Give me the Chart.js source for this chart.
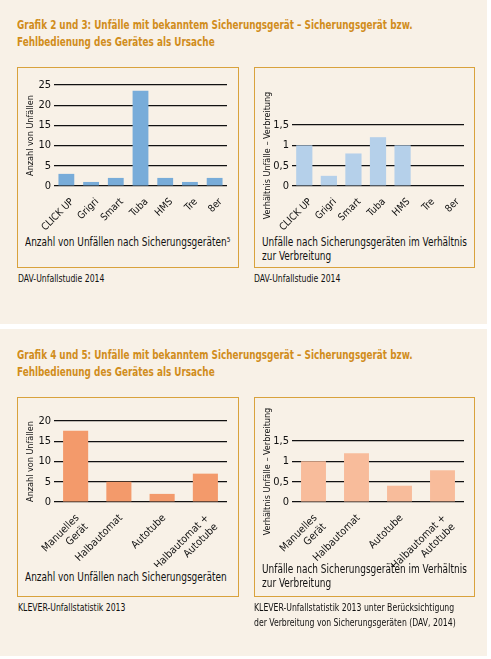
<!DOCTYPE html>
<html>
<head>
<meta charset="utf-8">
<script src="https://cdn.jsdelivr.net/npm/chart.js@4/dist/chart.umd.min.js"></script>
<style>
  body { margin: 0; width: 491px; height: 659px; background: #fff; position: relative; overflow: hidden;
         font-family: 'DejaVu Sans Condensed', sans-serif; }
  .panel { position: absolute; left: 0; width: 487px; background: #f8f1e7; }
  .title { position: absolute; left: 17px; color: #d18d1c; font-weight: bold; font-size: 12px; line-height: 16.5px;
           white-space: nowrap; transform: scaleX(0.82); transform-origin: 0 0; }
  .box { position: absolute; border: 1px solid #d9a23c; box-sizing: border-box; }
  .wrap { position: absolute; }
  .sub { position: absolute; font-size: 12px; line-height: 13.5px; color: #111; white-space: nowrap;
         transform: scaleX(0.83); transform-origin: 0 0; }
  .src { position: absolute; font-size: 10px; line-height: 15px; color: #111; white-space: nowrap;
         transform: scaleX(0.86); transform-origin: 0 0; }
</style>
</head>
<body>
<div class="panel" style="top:0;height:324px"></div>
<div class="panel" style="top:329px;height:327px"></div>

<div class="title" style="top:17px">Grafik 2 und 3: Unfälle mit bekanntem Sicherungsgerät – Sicherungsgerät bzw.<br>Fehlbedienung des Gerätes als Ursache</div>
<div class="title" style="top:347px">Grafik 4 und 5: Unfälle mit bekanntem Sicherungsgerät – Sicherungsgerät bzw.<br>Fehlbedienung des Gerätes als Ursache</div>

<div class="box" style="left:17px;top:67px;width:222px;height:201px"></div>
<div class="box" style="left:254px;top:67px;width:221px;height:201px"></div>
<div class="box" style="left:17px;top:397px;width:222px;height:200px"></div>
<div class="box" style="left:254px;top:397px;width:221px;height:200px"></div>

<div class="wrap" style="left:17px;top:67px;width:221px;height:165px"><canvas id="chart1"></canvas></div>
<div class="wrap" style="left:254px;top:67px;width:220px;height:165px"><canvas id="chart2"></canvas></div>
<div class="wrap" style="left:17px;top:397px;width:221px;height:170px"><canvas id="chart3"></canvas></div>
<div class="wrap" style="left:254px;top:397px;width:220px;height:170px"><canvas id="chart4"></canvas></div>

<div class="sub" style="left:25px;top:236px">Anzahl von Unfällen nach Sicherungsgeräten⁵</div>
<div class="sub" style="left:262px;top:236px">Unfälle nach Sicherungsgeräten im Verhältnis<br>zur Verbreitung</div>
<div class="sub" style="left:25px;top:571px">Anzahl von Unfällen nach Sicherungsgeräten</div>
<div class="sub" style="left:262px;top:563px">Unfälle nach Sicherungsgeräten im Verhältnis<br>zur Verbreitung</div>

<div class="src" style="left:18px;top:271px">DAV-Unfallstudie 2014</div>
<div class="src" style="left:254px;top:271px">DAV-Unfallstudie 2014</div>
<div class="src" style="left:18px;top:600px">KLEVER-Unfallstatistik 2013</div>
<div class="src" style="left:254px;top:600px">KLEVER-Unfallstatistik 2013 unter Berücksichtigung<br>der Verbreitung von Sicherungsgeräten (DAV, 2014)</div>

<script>
// Data
var deviceLabels = ['CLICK UP', 'Grigri', 'Smart', 'Tuba', 'HMS', 'Tre', '8er'];
var deviceAccidents = [3, 1, 2, 23.6, 2, 1, 2];
var deviceRatio = [1.0, 0.25, 0.8, 1.2, 1.0, null, null];

var typeLabels = [['Manuelles', 'Gerät'], 'Halbautomat', 'Autotube', ['Halbautomat +', 'Autotube']];
var typeAccidents = [17.6, 5, 2, 7];
var typeRatio = [1.0, 1.2, 0.4, 0.78];

var countTicksDevices = [0, 5, 10, 15, 20, 25];
var ratioTicks = [0, 0.5, 1, 1.5];
var countTicksTypes = [0, 5, 10, 15, 20];

var FONT = "'DejaVu Sans Condensed', sans-serif";

function makeChart(id, labels, values, color, ticks, yTitle, pad, yWidth, xHeight, barPct, xTick) {
  var ctx = document.getElementById(id).getContext('2d');
  return new Chart(ctx, {
    type: 'bar',
    data: {
      labels: labels,
      datasets: [{
        data: values,
        backgroundColor: color,
        borderWidth: 0,
        barPercentage: barPct,
        categoryPercentage: 1
      }]
    },
    options: {
      responsive: true,
      maintainAspectRatio: false,
      animation: false,
      layout: { padding: pad },
      scales: {
        x: {
          grid: { display: false },
          border: { display: false },
          ticks: {
            color: '#111',
            font: { family: FONT, size: xTick.size },
            minRotation: 45,
            maxRotation: 45,
            autoSkip: false,
            padding: xTick.padding,
            labelOffset: xTick.shift
          },
          afterFit: function(scale) { scale.height = xHeight; }
        },
        y: {
          min: ticks[0],
          max: ticks[ticks.length - 1],
          afterBuildTicks: function(scale) {
            scale.ticks = ticks.map(function(v) { return { value: v }; });
          },
          grid: { color: '#111', lineWidth: 1.2, drawTicks: false },
          border: { display: false },
          ticks: {
            color: '#111',
            font: { family: FONT, size: 11 },
            padding: 3,
            callback: function(v) { return String(v).replace('.', ','); }
          },
          title: {
            display: true,
            text: yTitle,
            color: '#111',
            font: { family: FONT, size: 9 },
            padding: { top: 8, bottom: 0 }
          },
          afterFit: function(scale) { scale.width = yWidth; }
        }
      },
      plugins: {
        legend: { display: false },
        tooltip: { enabled: false }
      }
    }
  });
}

var deviceTick = { size: 10, padding: 2, shift: 6 };
var typeTick = { size: 10.5, padding: 2, shift: 2 };

makeChart('chart1', deviceLabels, deviceAccidents, '#78acd9', countTicksDevices,
  'Anzahl von Unfällen', { top: 18, right: 11, left: 0, bottom: 0 }, 37, 46, 0.64, deviceTick);
makeChart('chart2', deviceLabels, deviceRatio, '#b5d0ea', ratioTicks,
  'Verhältnis Unfälle – Verbreitung', { top: 58, right: 10, left: 0, bottom: 0 }, 38, 46, 0.66, deviceTick);
makeChart('chart3', typeLabels, typeAccidents, '#f39a6b', countTicksTypes,
  'Anzahl von Unfällen', { top: 24, right: 11, left: 0, bottom: 0 }, 37, 65, 0.58, typeTick);
makeChart('chart4', typeLabels, typeRatio, '#f8bc9b', ratioTicks,
  'Verhältnis Unfälle – Verbreitung', { top: 44, right: 10, left: 0, bottom: 0 }, 38, 65, 0.58, typeTick);
</script>
</body>
</html>
